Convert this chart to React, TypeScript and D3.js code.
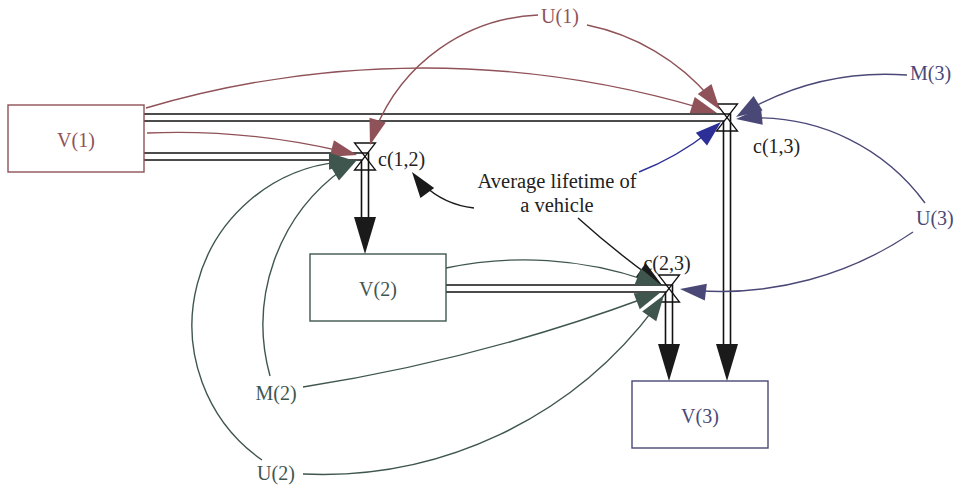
import React from "react";
import * as d3 from "d3";

const RED = "#8f5258";
const GREEN = "#3f564f";
const PURPLE = "#4a4876";
const BLUE = "#2b2f96";
const BLACK = "#1a1a1a";

// Stocks: name, box [x0, y0, x1, y1], colour
const stockNames = ["V(1)", "V(2)", "V(3)"];
const stockBoxes: [number, number, number, number][] = [
  [8, 105, 144, 172],
  [310, 254, 446, 321],
  [632, 381, 768, 448],
];
const stockColors = [RED, GREEN, PURPLE];

// Valves (rates): name, centre, label anchor
const valveNames = ["c(1,2)", "c(1,3)", "c(2,3)"];
const valveCenters: [number, number][] = [
  [365, 156.5],
  [727, 117.5],
  [669, 288.5],
];
const valveLabelPos: [number, number, string][] = [
  [378, 166, "start"],
  [753, 153, "start"],
  [667, 270, "middle"],
];

// Flows (pipes): from stock index -> valve index -> to stock index
const flowFrom = [0, 0, 1];
const flowValve = [0, 1, 2];
const flowTo = [1, 2, 2];

// Auxiliary variables
const auxNames = ["U(1)", "M(2)", "U(2)", "M(3)", "U(3)"];
const auxPos: [number, number, string][] = [
  [560, 23, "middle"],
  [276, 400, "middle"],
  [276, 480, "middle"],
  [910, 80, "start"],
  [916, 225, "start"],
];
const auxColors = [RED, GREEN, GREEN, PURPLE, PURPLE];

const noteLines = ["Average lifetime of", "a vehicle"];

// Connectors: start, via, end (arc through three points), colour
type P = [number, number];
const connStart: P[] = [
  [578, 218], [474, 208], // black ones first
  [146, 108], [587, 25], [538, 15], [147, 133],
  [270, 376], [262, 460],
  [446, 268], [303, 387], [303, 474],
  [907, 75], [925, 203], [913, 232],
  [639, 172],
];
const connVia: P[] = [
  [607, 243], [440, 197],
  [420, 68], [653, 50], [453, 40], [250, 136],
  [272, 267], [192, 323],
  [513, 260], [480, 350], [533, 417],
  [820, 82], [840, 135], [857, 263],
  [683, 150],
];
const connEnd: P[] = [
  [662, 285], [412, 172],
  [717, 113], [720, 110], [370, 145], [357, 155],
  [357, 160], [355, 161],
  [662, 286], [661, 292], [664, 295],
  [736, 117], [736, 119], [680, 289],
  [721, 122],
];
const connColors = [
  BLACK, BLACK,
  RED, RED, RED, RED,
  GREEN, GREEN,
  GREEN, GREEN, GREEN,
  PURPLE, PURPLE, PURPLE,
  BLUE,
];

const TAU = Math.PI * 2;
const norm = (a: number) => ((a % TAU) + TAU) % TAU;

function arcConnector(s: P, v: P, e: P, L: number, W: number) {
  const [ax, ay] = s, [bx, by] = v, [cx, cy] = e;
  const d = 2 * (ax * (by - cy) + bx * (cy - ay) + cx * (ay - by));
  const a2 = ax * ax + ay * ay, b2 = bx * bx + by * by, c2 = cx * cx + cy * cy;
  const ux = (a2 * (by - cy) + b2 * (cy - ay) + c2 * (ay - by)) / d;
  const uy = (a2 * (cx - bx) + b2 * (ax - cx) + c2 * (bx - ax)) / d;
  const r = Math.hypot(ax - ux, ay - uy);
  const a0 = Math.atan2(ay - uy, ax - ux);
  const av = Math.atan2(by - uy, bx - ux);
  const a1 = Math.atan2(cy - uy, cx - ux);
  const inc = norm(av - a0) < norm(a1 - a0);
  const shorten = (L * 0.6) / r;
  const aEnd = inc ? a1 - shorten : a1 + shorten;
  const p = d3.path();
  p.moveTo(ax, ay);
  p.arc(ux, uy, r, a0, aEnd, !inc);
  const tx = inc ? -Math.sin(a1) : Math.sin(a1);
  const ty = inc ? Math.cos(a1) : -Math.cos(a1);
  const bxc = cx - tx * L, byc = cy - ty * L;
  const nx = -ty, ny = tx;
  const head = `M${cx},${cy}L${bxc + nx * W},${byc + ny * W}L${bxc - nx * W},${byc - ny * W}Z`;
  return { line: p.toString(), head };
}

export default function App() {
  const width = 956, height = 488;
  const font = "'Liberation Serif', 'Times New Roman', serif";

  const pipes = flowFrom.map((fi, i) => {
    const [, , sx1] = stockBoxes[fi];
    const [vx, vy] = valveCenters[flowValve[i]];
    const [, ty0] = stockBoxes[flowTo[i]];
    const headLen = 37, headW = 11;
    const line = d3.line()([
      [sx1, vy],
      [vx, vy],
      [vx, ty0 - headLen + 1],
    ] as [number, number][]);
    const head = `M${vx},${ty0}L${vx - headW},${ty0 - headLen}L${vx + headW},${ty0 - headLen}Z`;
    return { line, head, key: i };
  });

  const conns = connStart.map((s, i) => ({
    ...arcConnector(s, connVia[i], connEnd[i], 26, 8.5),
    color: connColors[i],
    key: i,
  }));

  return (
    <svg
      width={width}
      height={height}
      style={{ position: "absolute", left: 0, top: 0, background: "#fff" }}
      fontFamily={font}
    >
      <rect width={width} height={height} fill="#fff" />
      {/* pipes */}
      {pipes.map((p) => (
        <g key={p.key}>
          <path d={p.line!} fill="none" stroke="#111" strokeWidth={8.6} strokeLinejoin="miter" />
          <path d={p.line!} fill="none" stroke="#fff" strokeWidth={5.4} strokeLinejoin="miter" />
          <path d={p.head} fill={BLACK} />
        </g>
      ))}
      {/* valves */}
      {valveCenters.map(([x, y], i) => (
        <g key={i}>
          <path
            d={`M${x - 10.5},${y - 13.5}L${x + 10.5},${y - 13.5}L${x - 10.5},${y + 13.5}L${x + 10.5},${y + 13.5}Z`}
            fill="none"
            stroke="#111"
            strokeWidth={1.3}
          />
          <text
            x={valveLabelPos[i][0]}
            y={valveLabelPos[i][1]}
            textAnchor={valveLabelPos[i][2] as any}
            fontSize={20}
            fill="#222"
          >
            {valveNames[i]}
          </text>
        </g>
      ))}
      {/* connectors */}
      {conns.map((c) => (
        <g key={c.key}>
          <path d={c.line} fill="none" stroke={c.color} strokeWidth={1.4} />
          <path d={c.head} fill={c.color} />
        </g>
      ))}
      {/* stocks */}
      {stockBoxes.map(([x0, y0, x1, y1], i) => (
        <g key={i}>
          <rect x={x0} y={y0} width={x1 - x0} height={y1 - y0} fill="#fff" stroke={stockColors[i]} strokeWidth={1.4} />
          <text x={(x0 + x1) / 2} y={(y0 + y1) / 2 + 8} textAnchor="middle" fontSize={20} fill={stockColors[i]}>
            {stockNames[i]}
          </text>
        </g>
      ))}
      {/* auxiliaries */}
      {auxNames.map((n, i) => (
        <text key={n} x={auxPos[i][0]} y={auxPos[i][1]} textAnchor={auxPos[i][2] as any} fontSize={20} fill={auxColors[i]}>
          {n}
        </text>
      ))}
      {noteLines.map((t, i) => (
        <text key={t} x={557} y={188 + i * 24} textAnchor="middle" fontSize={20.5} fill="#222">
          {t}
        </text>
      ))}
    </svg>
  );
}
